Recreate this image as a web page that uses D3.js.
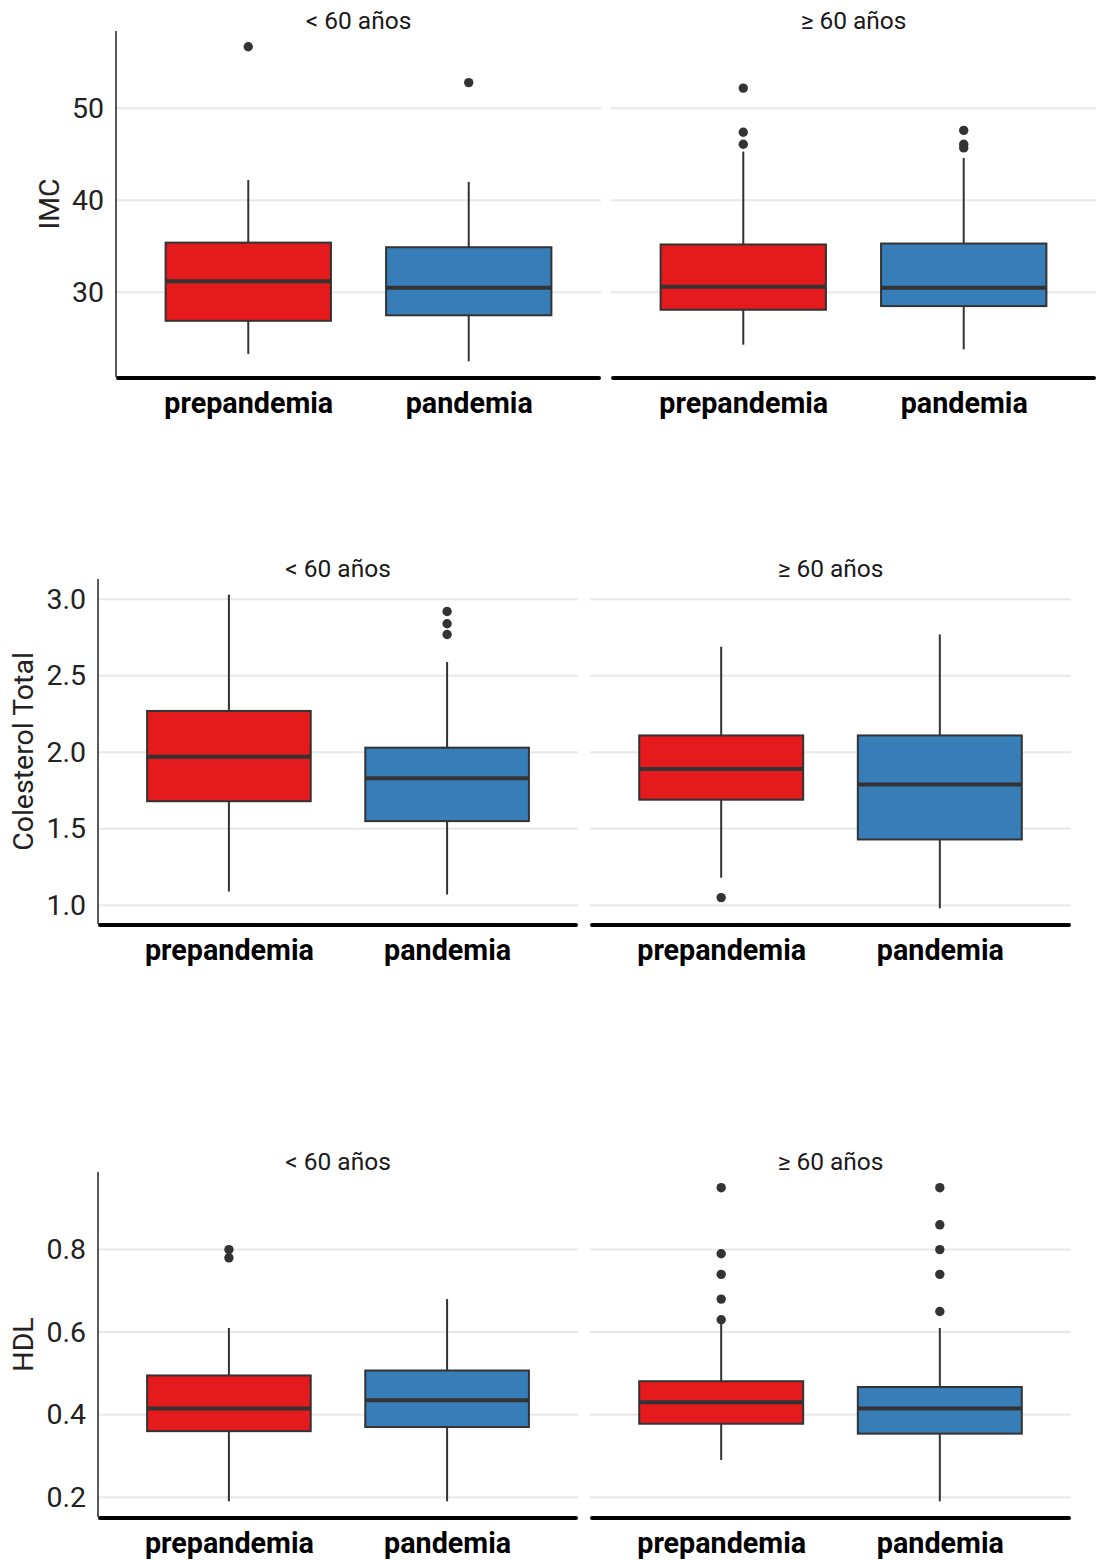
<!DOCTYPE html>
<html>
<head>
<meta charset="utf-8">
<script src="https://cdn.jsdelivr.net/npm/d3@7"></script>
<style>
  body { margin: 0; background: #fff; }
  svg { display: block; font-family: Roboto, "Noto Sans", sans-serif; }
</style>
</head>
<body>
<div id="chart"></div>
<script>
const measures = ["IMC", "Colesterol Total", "HDL"];
const ageGroups = ["< 60 años", "≥ 60 años"];
const periods = ["prepandemia", "pandemia"];
const periodColors = ["#E41A1C", "#377EB8"];

// [ageGroup][period] -> [lower whisker, q1, median, q3, upper whisker]
const imcStats = [
  [[23.3, 26.9, 31.2, 35.4, 42.2], [22.5, 27.5, 30.5, 34.9, 42.0]],
  [[24.3, 28.1, 30.6, 35.2, 45.3], [23.8, 28.5, 30.5, 35.3, 44.6]]
];
const imcOutliers = [[[56.7], [52.8]], [[52.2, 47.4, 46.1], [47.6, 46.1, 45.7]]];
const imcTicks = [30, 40, 50];

const colStats = [
  [[1.09, 1.68, 1.97, 2.27, 3.03], [1.07, 1.55, 1.83, 2.03, 2.59]],
  [[1.18, 1.69, 1.89, 2.11, 2.69], [0.98, 1.43, 1.79, 2.11, 2.77]]
];
const colOutliers = [[[], [2.92, 2.84, 2.77]], [[1.05], []]];
const colTicks = [1.0, 1.5, 2.0, 2.5, 3.0];

const hdlStats = [
  [[0.19, 0.36, 0.415, 0.495, 0.61], [0.19, 0.37, 0.435, 0.507, 0.68]],
  [[0.29, 0.378, 0.43, 0.481, 0.62], [0.19, 0.354, 0.415, 0.467, 0.61]]
];
const hdlOutliers = [[[0.80, 0.78], []], [[0.95, 0.79, 0.74, 0.68, 0.63], [0.95, 0.86, 0.80, 0.74, 0.65]]];
const hdlTicks = [0.2, 0.4, 0.6, 0.8];

const rowStats = [imcStats, colStats, hdlStats];
const rowOutliers = [imcOutliers, colOutliers, hdlOutliers];
const rowTicks = [imcTicks, colTicks, hdlTicks];
const tickFormats = [d3.format("d"), d3.format(".1f"), d3.format(".1f")];

const width = 1096, height = 1560;

// where each row's panels sit
const rowLayout = [
  { top: 31, bottom: 377, panels: [[116, 601], [611, 1096]] },
  { top: 579, bottom: 924, panels: [[98, 578], [590, 1071]] },
  { top: 1172, bottom: 1517, panels: [[98, 578], [590, 1071]] }
];

const svg = d3.select("#chart")
  .append("svg")
    .attr("width", width)
    .attr("height", height);

measures.forEach((measure, r) => {
  const lay = rowLayout[r];
  const stats = rowStats[r];
  const outs = rowOutliers[r];

  const allVals = stats.flat(2).concat(outs.flat(2));
  const [lo, hi] = d3.extent(allVals);
  const pad = (hi - lo) * 0.05;
  const y = d3.scaleLinear()
    .domain([lo - pad, hi + pad])
    .range([lay.bottom, lay.top]);

  const row = svg.append("g").attr("class", "row");

  ageGroups.forEach((age, a) => {
    const [x0, x1] = lay.panels[a];
    const x = d3.scalePoint()
      .domain(periods)
      .range([x0, x1])
      .padding(0.6);
    const boxW = x.step() * 0.75;

    const panel = row.append("g");

    // gridlines
    panel.append("g")
      .selectAll("line")
      .data(rowTicks[r])
      .join("line")
        .attr("x1", x0)
        .attr("x2", x1)
        .attr("y1", d => y(d))
        .attr("y2", d => y(d))
        .attr("stroke", "#e8e8e8")
        .attr("stroke-width", 2);

    // facet title
    panel.append("text")
      .attr("x", (x0 + x1) / 2)
      .attr("y", lay.top - 2)
      .attr("text-anchor", "middle")
      .attr("font-size", 24.5)
      .attr("fill", "#1a1a1a")
      .text(age);

    periods.forEach((p, k) => {
      const s = stats[a][k];
      const cx = x(p);
      const g = panel.append("g");

      // whiskers
      g.append("line")
        .attr("x1", cx).attr("x2", cx)
        .attr("y1", y(s[0])).attr("y2", y(s[1]))
        .attr("stroke", "#333").attr("stroke-width", 2);
      g.append("line")
        .attr("x1", cx).attr("x2", cx)
        .attr("y1", y(s[3])).attr("y2", y(s[4]))
        .attr("stroke", "#333").attr("stroke-width", 2);

      g.append("rect")
        .attr("x", cx - boxW / 2)
        .attr("y", y(s[3]))
        .attr("width", boxW)
        .attr("height", y(s[1]) - y(s[3]))
        .attr("fill", periodColors[k])
        .attr("stroke", "#333")
        .attr("stroke-width", 2);

      g.append("line")
        .attr("x1", cx - boxW / 2).attr("x2", cx + boxW / 2)
        .attr("y1", y(s[2])).attr("y2", y(s[2]))
        .attr("stroke", "#333").attr("stroke-width", 4);

      g.selectAll("circle")
        .data(outs[a][k])
        .join("circle")
          .attr("cx", cx)
          .attr("cy", d => y(d))
          .attr("r", 4.7)
          .attr("fill", "#333");
    });

    // x axis: thick baseline, bold labels, no ticks
    const xAxis = panel.append("g")
      .attr("transform", `translate(0,${lay.bottom})`)
      .call(d3.axisBottom(x).tickSize(0).tickPadding(16))
      .call(g => g.select(".domain").remove());
    xAxis.selectAll("text")
      .attr("font-family", "Roboto, sans-serif")
      .attr("font-size", 28.7)
      .attr("font-weight", "bold")
      .attr("fill", "#000");
    panel.append("line")
      .attr("x1", x0 + 2).attr("x2", x1 - 2)
      .attr("y1", lay.bottom + 1).attr("y2", lay.bottom + 1)
      .attr("stroke", "#000")
      .attr("stroke-width", 4)
      .attr("stroke-linecap", "round");

    // y axis only on the first facet
    if (a === 0) {
      const yAxis = panel.append("g")
        .attr("transform", `translate(${x0},0)`)
        .call(d3.axisLeft(y).tickValues(rowTicks[r]).tickFormat(tickFormats[r]).tickSize(0).tickPadding(12))
        .call(g => g.select(".domain").remove());
      yAxis.selectAll("text")
        .attr("font-family", "Roboto, sans-serif")
        .attr("font-size", 28.5)
        .attr("fill", "#222");
      panel.append("line")
        .attr("x1", x0).attr("x2", x0)
        .attr("y1", lay.top).attr("y2", lay.bottom)
        .attr("stroke", "#222")
        .attr("stroke-width", 1.5);

      const bb = yAxis.node().getBBox();
      const tx = x0 + bb.x - 13;
      panel.append("text")
        .attr("transform", `translate(${tx},${(lay.top + lay.bottom) / 2}) rotate(-90)`)
        .attr("text-anchor", "middle")
        .attr("font-size", 28.5)
        .attr("fill", "#222")
        .text(measure);
    }
  });
});
</script>
</body>
</html>
